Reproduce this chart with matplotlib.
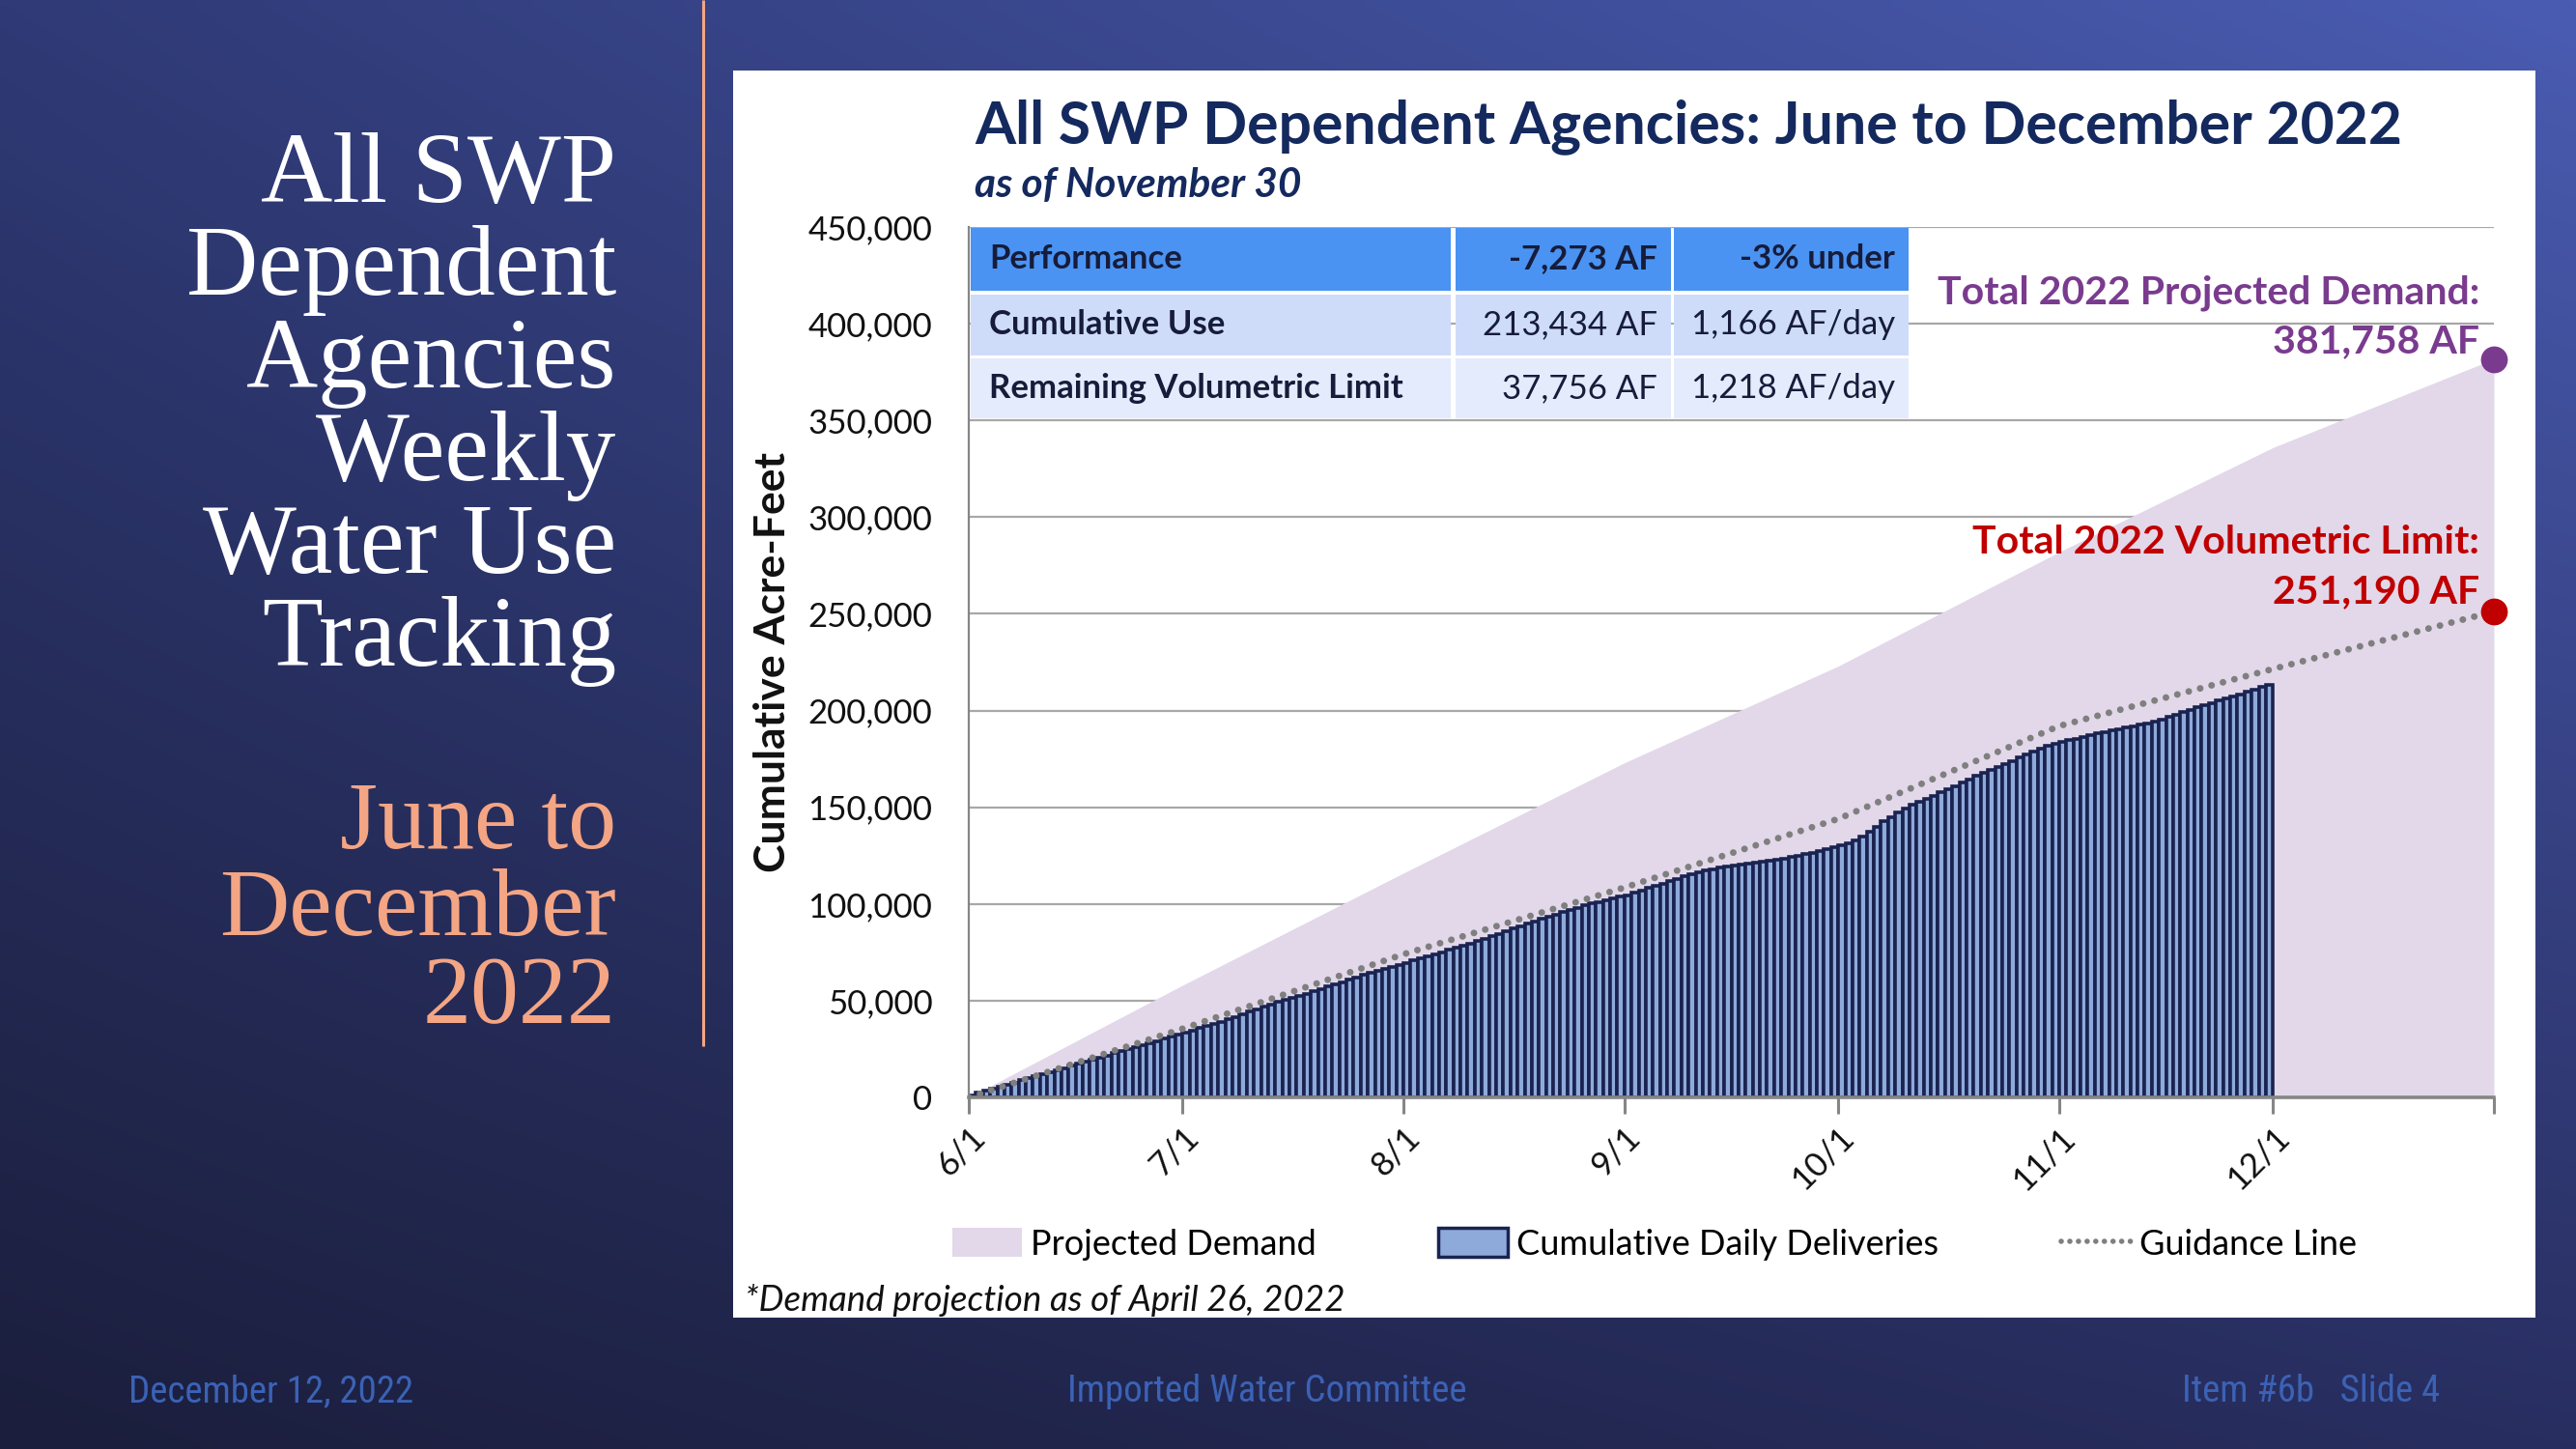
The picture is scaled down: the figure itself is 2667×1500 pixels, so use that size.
import numpy as np
import matplotlib
matplotlib.use('Agg')
import matplotlib.pyplot as plt
from matplotlib.patches import Rectangle, Patch
from matplotlib.lines import Line2D
from matplotlib import font_manager

W, H = 2667, 1500

# ---------------- data ----------------
june_af = [1200, 2300, 3400, 4400, 5500, 6600, 7700, 8800, 9900, 11000,
           12000, 13100, 14200, 15200, 16300, 17400, 18500, 19500, 20600, 21700,
           22800, 23800, 24900, 26000, 27000, 28100, 29200, 30300, 31400, 32500]
july_af = [33600, 34700, 35800, 36900, 38000, 39200, 40400, 41700, 43000, 44300,
           45500, 46800, 48000, 49200, 50300, 51400, 52500, 53600, 54800, 56000,
           57200, 58400, 59600, 60800, 62000, 63200, 64300, 65400, 66500, 67600,
           68600]
august_af = [69600, 70700, 71800, 72900, 74000, 75100, 76200, 77300, 78400, 79600,
             80800, 82000, 83300, 84600, 85900, 87200, 88500, 89800, 91000, 92200,
             93400, 94600, 95800, 97000, 98100, 99200, 100200, 101100, 102000, 102900,
             103800]
september_af = [104600, 105800, 107000, 108200, 109400, 110600, 111800, 113000, 114200, 115300,
                116300, 117200, 118000, 118700, 119300, 119900, 120400, 120900, 121400, 121900,
                122400, 123000, 123600, 124300, 125000, 125800, 126600, 127500, 128400, 129400]
october_af = [130400, 131600, 133000, 135000, 137500, 140000, 142600, 145000, 147300, 149500,
              151400, 153000, 154500, 156000, 157600, 159300, 161000, 162700, 164400, 166100,
              167700, 169200, 170800, 172400, 174000, 175700, 177300, 178900, 180300, 181600,
              182700]
november_af = [183700, 184600, 185500, 186400, 187300, 188100, 188900, 189700, 190500, 191200,
               191900, 192600, 193300, 194100, 195300, 196600, 197900, 199200, 200400, 201600,
               202800, 204000, 205200, 206300, 207400, 208500, 209600, 210900, 212200, 213434]
deliveries = june_af + july_af + august_af + september_af + october_af + november_af
delivery_start = '2022-06-01'

anchor_dates = ['2022-06-01', '2022-07-01', '2022-08-01', '2022-09-01', '2022-10-01',
                '2022-11-01', '2022-12-01', '2023-01-01']
demand_af = [0, 58000, 116000, 173000, 223000, 282000, 336000, 381758]
guidance_af = [0, 35500, 74000, 108500, 144000, 192000, 221500, 251190]

tick_dates = ['2022-06-01', '2022-07-01', '2022-08-01', '2022-09-01', '2022-10-01',
              '2022-11-01', '2022-12-01', '2023-01-01']
tick_labels = ['6/1', '7/1', '8/1', '9/1', '10/1', '11/1', '12/1', '']
y_ticks = [0, 50000, 100000, 150000, 200000, 250000, 300000, 350000, 400000, 450000]

table_rows = [['Performance', '-7,273 AF', '-3% under'],
              ['Cumulative Use', '213,434 AF', '1,166 AF/day'],
              ['Remaining Volumetric Limit', '37,756 AF', '1,218 AF/day']]

left_title = ['All SWP', 'Dependent', 'Agencies', 'Weekly', 'Water Use', 'Tracking']
left_sub = ['June to', 'December', '2022']
chart_title = 'All SWP Dependent Agencies: June to December 2022'
chart_sub = 'as of November 30'
demand_label = ['Total 2022 Projected Demand:', '381,758 AF']
limit_label = ['Total 2022 Volumetric Limit:', '251,190 AF']
legend_labels = ['Projected Demand', 'Cumulative Daily Deliveries', 'Guidance Line']
footnote = '*Demand projection as of April 26, 2022'
footer = ['December 12, 2022', 'Imported Water Committee', 'Item #6b   Slide 4']

# ---------------- fonts ----------------
avail = {f.name for f in font_manager.fontManager.ttflist}
SANS = 'Lato' if 'Lato' in avail else 'DejaVu Sans'
SERIF = 'Liberation Serif' if 'Liberation Serif' in avail else 'DejaVu Serif'
FOOT = 'Roboto'
FOOT_SIZE = 25
for cand, size in [('Liberation Sans Narrow', 28), ('Roboto Condensed', 28),
                   ('Open Sans Condensed', 27)]:
    if cand in avail:
        FOOT, FOOT_SIZE = cand, size
        break
plt.rcParams['font.family'] = [SANS, 'DejaVu Sans']

# ---------------- colours ----------------
NAVY_T = '#14295e'
LAV = '#e2d8e9'
BAR_FILL = '#8eaadb'
BAR_EDGE = '#1a2350'
GUIDE = '#7f7f7f'
PURPLE = '#7a3b8f'
RED = '#c00000'
SALMON = '#f4a584'
FOOT_C = '#3b62b5'

fig = plt.figure(figsize=(W / 100, H / 100), dpi=100)

# background gradient
bg = fig.add_axes([0, 0, 1, 1], zorder=-10)
tl = np.array([47, 58, 118]) / 255
tr = np.array([74, 92, 178]) / 255
bl = np.array([27, 30, 60]) / 255
br = np.array([40, 46, 96]) / 255
gx = np.linspace(0, 1, 268)[None, :, None]
gy = np.linspace(0, 1, 150)[:, None, None]
grad = (1 - gy) * ((1 - gx) * tl + gx * tr) + gy * ((1 - gx) * bl + gx * br)
bg.imshow(grad, extent=[0, W, H, 0], aspect='auto', interpolation='bilinear')
bg.set_xlim(0, W)
bg.set_ylim(H, 0)
bg.axis('off')

# white panel
bg.add_patch(Rectangle((759, 73), 1866, 1291, facecolor='white', edgecolor='none'))
# orange divider
bg.plot([728, 728], [0, 1083], color=SALMON, lw=2.2, solid_capstyle='butt')

# left title
for i, t in enumerate(left_title):
    bg.text(638, 209 + i * 96, t, ha='right', va='baseline', family=SERIF,
            fontsize=74, color='white')
for i, t in enumerate(left_sub):
    bg.text(638, 878 + i * 90, t, ha='right', va='baseline', family=SERIF,
            fontsize=72, color=SALMON)

# chart title
bg.text(1009, 148, chart_title, ha='left', va='baseline', fontsize=43.7,
        fontweight='bold', color=NAVY_T)
bg.text(1009, 204, chart_sub, ha='left', va='baseline', fontsize=30.5,
        fontweight='bold', style='italic', color=NAVY_T)

# footnote
bg.text(771, 1357, footnote, ha='left', va='baseline', fontsize=26.5,
        style='italic', color='#111111')

# footer
bg.text(133, 1451, footer[0], ha='left', va='baseline', family=FOOT, fontsize=FOOT_SIZE, color=FOOT_C)
bg.text(1312, 1451, footer[1], ha='center', va='baseline', family=FOOT, fontsize=FOOT_SIZE, color=FOOT_C)
bg.text(2526, 1451, footer[2], ha='right', va='baseline', family=FOOT, fontsize=FOOT_SIZE, color=FOOT_C)

# ---------------- main chart ----------------
ax = fig.add_axes([1003 / W, 1 - 1136 / H, (2582 - 1003) / W, (1136 - 235) / H])
ax.set_facecolor('none')

bar_x = np.arange(np.datetime64(delivery_start), np.datetime64(delivery_start) + len(deliveries))
a_dates = np.array(anchor_dates, dtype='datetime64[D]')

ax.fill_between(a_dates, 0, demand_af, color=LAV, lw=0, zorder=1)
ax.bar(bar_x, deliveries, width=1.0, align='edge', color=BAR_FILL,
       edgecolor=BAR_EDGE, linewidth=2.6, zorder=2)
ax.plot(a_dates, guidance_af, color=GUIDE, lw=5.0, linestyle=(0, (0.01, 1.75)),
        dash_capstyle='round', zorder=3)
ax.plot(a_dates[-1:], demand_af[-1:], 'o', color=PURPLE, ms=19, clip_on=False, zorder=5)
ax.plot(a_dates[-1:], guidance_af[-1:], 'o', color=RED, ms=19, clip_on=False, zorder=5)

ann_kw = dict(textcoords='offset pixels', ha='right', va='baseline', fontsize=29.5,
              fontweight='bold', annotation_clip=False)
ax.annotate(demand_label[0], (a_dates[-1], demand_af[-1]), xytext=(-15, 57), color=PURPLE, **ann_kw)
ax.annotate(demand_label[1], (a_dates[-1], demand_af[-1]), xytext=(-15, 6), color=PURPLE, **ann_kw)
ax.annotate(limit_label[0], (a_dates[-1], guidance_af[-1]), xytext=(-15, 60), color=RED, **ann_kw)
ax.annotate(limit_label[1], (a_dates[-1], guidance_af[-1]), xytext=(-15, 9), color=RED, **ann_kw)

ax.set_xlim(a_dates[0], a_dates[-1])
ax.set_ylim(0, 450000)
ax.set_yticks(y_ticks)
ax.set_yticklabels([f'{v:,}' for v in y_ticks], fontsize=25, color='#111111')
ax.set_xticks(np.array(tick_dates, dtype='datetime64[D]'))
ax.set_xticklabels(tick_labels, fontsize=25, color='#111111', rotation=45,
                   ha='right', va='top', rotation_mode='anchor')
ax.tick_params(axis='y', length=0, pad=27)
ax.tick_params(axis='x', length=12, width=2.2, color='#868686', pad=6, direction='out')
ax.yaxis.grid(True, color='#a8a8a8', lw=1.6)
ax.set_axisbelow(True)
for s in ['top', 'right']:
    ax.spines[s].set_visible(False)
ax.spines['left'].set_color('#868686')
ax.spines['left'].set_linewidth(1.6)
ax.spines['bottom'].set_color('#868686')
ax.spines['bottom'].set_linewidth(2.6)
ax.set_ylabel('Cumulative Acre-Feet', fontsize=32, fontweight='bold', color='#111111',
              labelpad=12)

# legend
handles = [Patch(facecolor=LAV, edgecolor='none'),
           Patch(facecolor=BAR_FILL, edgecolor=BAR_EDGE, linewidth=2.5),
           Line2D([0], [0], color=GUIDE, lw=4.0, linestyle=(0, (0.01, 1.6)),
                  dash_capstyle='round')]
fig.legend(handles, legend_labels, loc='center', bbox_to_anchor=(1713 / W, 1 - 1288 / H),
           ncol=3, frameon=False, fontsize=26, handlelength=2.0, handleheight=0.9,
           handletextpad=0.25, columnspacing=3.5)

# ---------------- table ----------------
col_x = [(1005, 1502), (1507, 1730), (1733, 1976)]
row_y = [(236, 301), (305, 368), (371, 433)]
row_colors = ['#4a93f3', '#cedcfa', '#e4ebfc']
for r, row in enumerate(table_rows):
    y0, y1 = row_y[r]
    for c, txt in enumerate(row):
        x0, x1 = col_x[c]
        fig.add_artist(Rectangle((x0 / W, 1 - y1 / H), (x1 - x0) / W, (y1 - y0) / H,
                                 transform=fig.transFigure, facecolor=row_colors[r],
                                 edgecolor='none', zorder=3))
        bold = (r == 0) or (c == 0)
        ym = 1 - (y0 + y1) / 2 / H
        if c == 0:
            fig.text((x0 + 19) / W, ym, txt, ha='left', va='center', fontsize=25,
                     fontweight='bold' if bold else 'normal', color='#161c3a', zorder=4)
        else:
            fig.text((x1 - 14) / W, ym, txt, ha='right', va='center', fontsize=25,
                     fontweight='bold' if bold else 'normal', color='#161c3a', zorder=4)

fig.savefig('out.png', dpi=100)
